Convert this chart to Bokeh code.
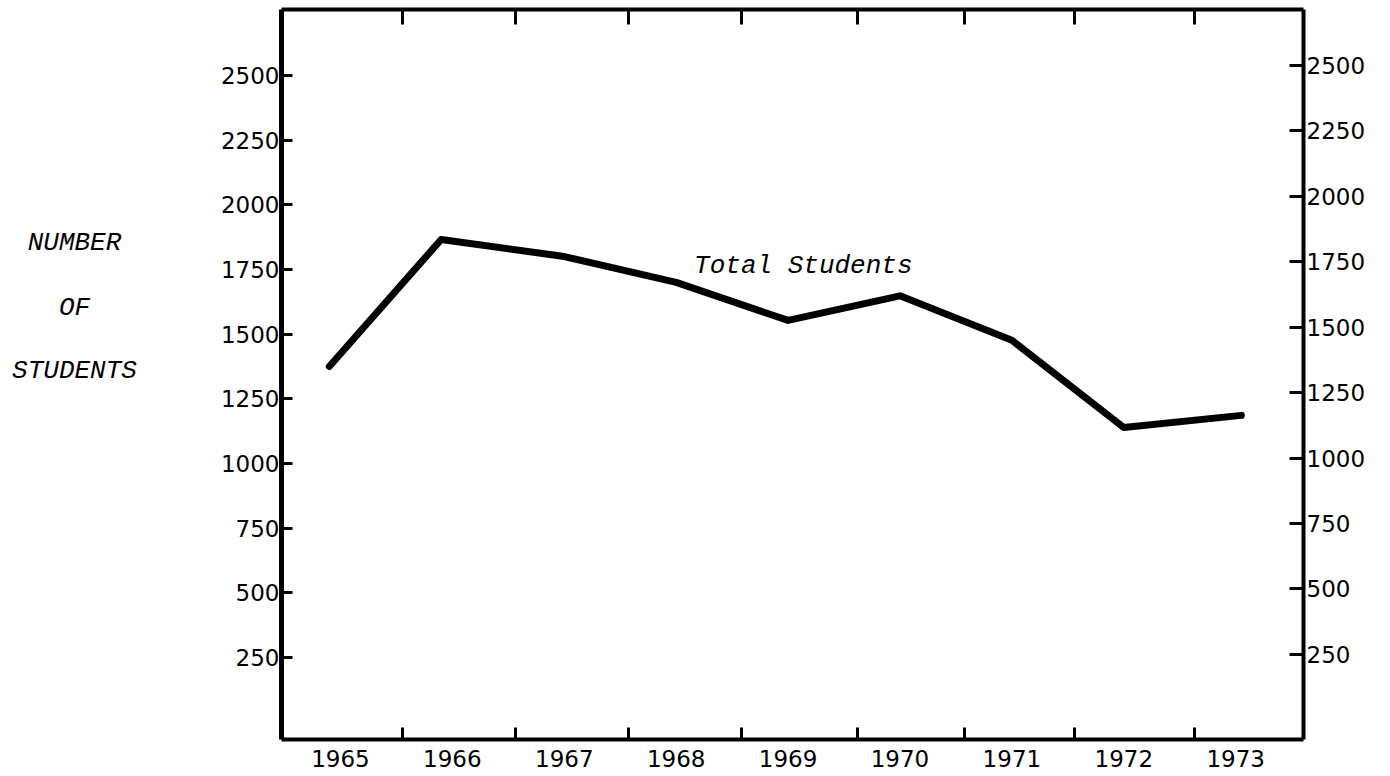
from bokeh.plotting import figure
from bokeh.models import Range1d, LinearAxis, FixedTicker
from bokeh.layouts import row
from bokeh.embed import file_html
from bokeh.resources import INLINE
from bokeh.core.properties import value

# ---- data ----
years = [1965, 1966, 1967, 1968, 1969, 1970, 1971, 1972, 1973]
year_labels = ["1965", "1966", "1967", "1968", "1969", "1970", "1971", "1972", "1973"]
# where each year's point sits along the year axis (as drawn)
point_years = [1964.9, 1965.9, 1967.0, 1968.0, 1969.0, 1970.0, 1971.0, 1972.0, 1973.05]
total_students = [1375, 1866, 1800, 1700, 1553, 1648, 1476, 1139, 1186]
# tick marks drawn between the year labels
year_dividers = [1965.55, 1966.56, 1967.57, 1968.58, 1969.62, 1970.58, 1971.56, 1972.63]
left_ticks = [250, 500, 750, 1000, 1250, 1500, 1750, 2000, 2250, 2500]
right_ticks = [250, 500, 750, 1000, 1250, 1500, 1750, 2000, 2250, 2500]
series_name = "Total Students"
axis_title_lines = ["NUMBER", "OF", "STUDENTS"]

TICK_FONT = "DejaVu Sans"
TYPE_FONT = "Liberation Mono"

H = 772
TOP, BOTTOM = 9, 33
Y_LEFT = (-67, 2755)

# ---- side panel carrying the vertical-axis title ----
side = figure(
    width=200, height=H,
    x_range=Range1d(0, 200), y_range=Range1d(*Y_LEFT),
    output_backend="svg", toolbar_location=None,
    min_border_left=0, min_border_right=0, min_border_top=TOP, min_border_bottom=BOTTOM,
    x_axis_location=None, y_axis_location=None,
)
side.outline_line_color = None
side.xgrid.visible = False
side.ygrid.visible = False
side.text(x=[74, 74, 74], y=[1851, 1600, 1356], text=axis_title_lines,
          text_font=value(TYPE_FONT), text_font_style="italic", text_font_size="26px",
          text_align="center", text_baseline="middle", text_color="black")

# ---- main chart ----
p = figure(
    width=1185, height=H,
    x_range=Range1d(1964.473, 1973.606),
    y_range=Range1d(*Y_LEFT),
    output_backend="svg", toolbar_location=None,
    min_border_left=81, min_border_right=82, min_border_top=TOP, min_border_bottom=BOTTOM,
    x_axis_location=None, y_axis_location=None,
)
p.extra_y_ranges = {"right": Range1d(-75, 2714)}
p.outline_line_color = None
p.background_fill_color = "white"
p.border_fill_color = "white"
p.xgrid.visible = False
p.ygrid.visible = False

def style_x(ax, tick_in):
    ax.axis_line_width = 4
    ax.axis_line_color = "black"
    ax.major_tick_line_color = None
    ax.major_tick_in = 0
    ax.major_tick_out = 0
    ax.minor_tick_line_color = "black"
    ax.minor_tick_line_width = 3
    ax.minor_tick_in = tick_in
    ax.minor_tick_out = 0

bottom = LinearAxis(ticker=FixedTicker(ticks=years, minor_ticks=year_dividers))
bottom.major_label_overrides = {y: s for y, s in zip(years, year_labels)}
style_x(bottom, 12)
bottom.major_label_text_font = TICK_FONT
bottom.major_label_text_font_size = "23px"
bottom.major_label_text_color = "black"
bottom.major_label_standoff = 10
p.add_layout(bottom, "below")

top = LinearAxis(ticker=FixedTicker(ticks=[], minor_ticks=year_dividers))
style_x(top, 15)
top.major_label_standoff = 0
p.add_layout(top, "above")

def style_y(ax, tick_in, width, standoff):
    ax.axis_line_width = width
    ax.axis_line_color = "black"
    ax.major_tick_line_color = "black"
    ax.major_tick_line_width = 3
    ax.major_tick_in = tick_in
    ax.major_tick_out = 0
    ax.minor_tick_line_color = None
    ax.major_label_text_font = TICK_FONT
    ax.major_label_text_font_size = "23px"
    ax.major_label_text_color = "black"
    ax.major_label_standoff = standoff

left = LinearAxis(ticker=FixedTicker(ticks=left_ticks))
style_y(left, 11, 5, 2)
p.add_layout(left, "left")
right = LinearAxis(y_range_name="right", ticker=FixedTicker(ticks=right_ticks))
style_y(right, 14, 4, 3)
p.add_layout(right, "right")

p.line(point_years, total_students, line_width=7, line_color="black",
       line_cap="round", line_join="round")

p.text(x=[1968.16], y=[1765], text=[series_name],
       text_font=value(TYPE_FONT), text_font_style="italic", text_font_size="26px",
       text_align="left", text_baseline="middle", text_color="black")

layout = row(side, p, spacing=0)
open("out.html", "w").write(file_html(layout, INLINE))
